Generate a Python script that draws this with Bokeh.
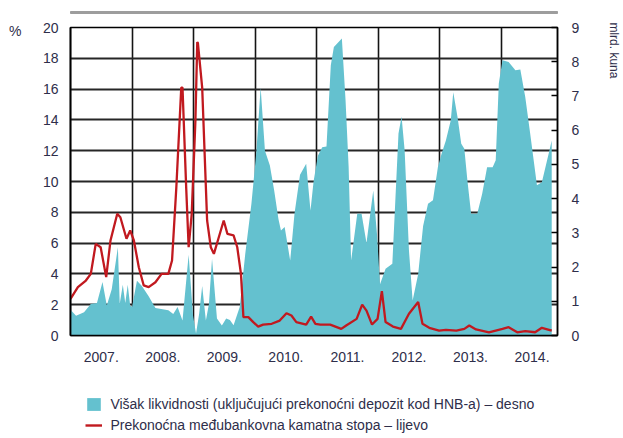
from bokeh.plotting import figure
from bokeh.models import Range1d, LinearAxis, FixedTicker, Legend, LegendItem
from bokeh.layouts import column
from bokeh.embed import file_html
from bokeh.resources import INLINE

# ---- data ----
# Excess liquidity (right axis, bn kuna); x = decimal year
liq_t = [2007.00, 2007.09, 2007.22, 2007.33, 2007.43, 2007.52, 2007.59, 2007.67, 2007.77,
         2007.80, 2007.85, 2007.89, 2007.93, 2007.97, 2008.00, 2008.08, 2008.16, 2008.27,
         2008.38, 2008.59, 2008.67, 2008.74, 2008.82, 2008.92, 2008.99, 2009.04, 2009.09,
         2009.14, 2009.20, 2009.25, 2009.30, 2009.38, 2009.46, 2009.53, 2009.59, 2009.65,
         2009.75, 2009.84, 2009.94, 2010.02, 2010.09, 2010.16, 2010.24, 2010.31, 2010.38,
         2010.42, 2010.48, 2010.57, 2010.64, 2010.73, 2010.83, 2010.90, 2010.95, 2011.02,
         2011.09, 2011.16, 2011.23, 2011.28, 2011.41, 2011.47, 2011.52, 2011.56, 2011.66,
         2011.73, 2011.81, 2011.92, 2011.98, 2012.03, 2012.12, 2012.23, 2012.33, 2012.38,
         2012.43, 2012.50, 2012.56, 2012.65, 2012.73, 2012.81, 2012.89, 2012.97, 2013.03,
         2013.10, 2013.18, 2013.22, 2013.29, 2013.35, 2013.40, 2013.45, 2013.51, 2013.61,
         2013.69, 2013.77, 2013.86, 2013.91, 2013.96, 2014.02, 2014.12, 2014.23, 2014.31,
         2014.39, 2014.47, 2014.58, 2014.66, 2014.77, 2014.82]
liq_v = [0.75, 0.58, 0.68, 0.92, 0.95, 1.56, 0.88, 1.35, 2.58,
         0.93, 1.48, 0.95, 1.48, 0.88, 0.83, 1.60, 1.45, 1.15,
         0.80, 0.74, 0.63, 0.83, 0.44, 2.36, 0.60, 0.06, 0.63,
         1.45, 0.44, 0.93, 2.24, 0.50, 0.29, 0.50, 0.45, 0.30,
         0.83, 2.39, 3.85, 5.36, 7.25, 5.40, 4.97, 4.24, 3.40,
         3.07, 3.17, 2.19, 3.56, 4.70, 5.02, 3.65, 4.50, 5.25,
         5.50, 5.52, 7.90, 8.43, 8.68, 6.87, 4.92, 2.19, 3.56,
         3.56, 2.70, 4.24, 2.97, 1.50, 1.95, 2.10, 5.90, 6.40,
         5.41, 2.49, 1.02, 1.80, 3.20, 3.85, 3.95, 4.92, 5.31,
         5.70, 6.29, 7.11, 6.38, 5.60, 5.46, 4.53, 3.56, 3.56,
         4.14, 4.92, 4.92, 5.12, 7.36, 8.04, 7.99, 7.75, 7.77,
         6.97, 5.90, 4.39, 4.48, 5.31, 5.70]

# Overnight interbank rate (left axis, %)
rate_t = [2007.00, 2007.12, 2007.25, 2007.33, 2007.41, 2007.49, 2007.58, 2007.65, 2007.76,
          2007.81, 2007.91, 2007.97, 2008.03, 2008.11, 2008.19, 2008.27, 2008.38, 2008.48,
          2008.59, 2008.65, 2008.72, 2008.80, 2008.82, 2008.88, 2008.92, 2008.97, 2009.03,
          2009.06, 2009.07, 2009.14, 2009.22, 2009.28, 2009.33, 2009.41, 2009.49, 2009.55,
          2009.65, 2009.71, 2009.77, 2009.81, 2009.89, 2009.97, 2010.05, 2010.13, 2010.27,
          2010.40, 2010.51, 2010.59, 2010.67, 2010.83, 2010.91, 2010.98, 2011.06, 2011.22,
          2011.40, 2011.48, 2011.65, 2011.74, 2011.81, 2011.90, 2011.99, 2012.06, 2012.12,
          2012.24, 2012.37, 2012.50, 2012.65, 2012.72, 2012.83, 2012.99, 2013.10, 2013.27,
          2013.40, 2013.48, 2013.59, 2013.80, 2014.02, 2014.12, 2014.26, 2014.39, 2014.55,
          2014.66, 2014.82]
rate_v = [2.38, 3.14, 3.57, 4.00, 5.95, 5.73, 3.79, 6.17, 7.90,
          7.68, 6.28, 6.82, 6.17, 4.43, 3.25, 3.14, 3.46, 4.00,
          4.00, 4.87, 9.63, 16.10, 16.10, 9.60, 5.73, 7.90, 13.96,
          19.05, 19.00, 16.10, 7.47, 5.73, 5.30, 6.38, 7.47, 6.60,
          6.50, 5.73, 4.00, 1.19, 1.19, 0.87, 0.58, 0.71, 0.76,
          0.97, 1.45, 1.30, 0.87, 0.71, 1.23, 0.76, 0.71, 0.71,
          0.43, 0.65, 1.08, 2.01, 1.62, 0.71, 1.08, 2.88, 0.87,
          0.58, 0.43, 1.41, 2.17, 0.76, 0.50, 0.32, 0.37, 0.32,
          0.43, 0.65, 0.39, 0.21, 0.43, 0.54, 0.21, 0.28, 0.21,
          0.50, 0.32]

year_centers = [2007.5, 2008.5, 2009.5, 2010.5, 2011.5, 2012.5, 2013.5, 2014.5]
year_labels = ["2007.", "2008.", "2009.", "2010.", "2011.", "2012.", "2013.", "2014."]
year_bounds = [2008, 2009, 2010, 2011, 2012, 2013, 2014]
left_ticks = [0, 2, 4, 6, 8, 10, 12, 14, 16, 18, 20]
right_ticks = [0, 1, 2, 3, 4, 5, 6, 7, 8, 9]
left_unit = "%"
right_unit = "mlrd. kuna"

label_area = "Višak likvidnosti (uključujući prekonoćni depozit kod HNB-a) – desno"
label_line = "Prekonoćna međubankovna kamatna stopa – lijevo"

FONT = "Liberation Sans"
TXT = "#2e2e4a"
TEAL = "#64c1cf"
RED = "#c1191f"
RULE = "#9d9d9d"

p = figure(width=623, height=356,
           x_range=Range1d(2007.0, 2014.914), y_range=Range1d(0, 20),
           output_backend="svg", toolbar_location=None,
           min_border_left=70, min_border_right=61, min_border_top=13, min_border_bottom=35,
           background_fill_color="white", border_fill_color="white")
p.extra_y_ranges = {"right": Range1d(0, 9)}

p.outline_line_color = "black"
p.outline_line_width = 1.5

# grids
p.xgrid.ticker = FixedTicker(ticks=year_bounds)
p.xgrid.grid_line_color = "#141414"
p.xgrid.grid_line_width = 1.6
p.ygrid.grid_line_color = "#262626"
p.ygrid.grid_line_width = 2.0


def style_axis(ax, standoff):
    ax.minor_tick_line_color = None
    ax.major_tick_out = 0
    ax.major_label_standoff = standoff
    ax.major_label_text_font = FONT
    ax.major_label_text_font_size = "14px"
    ax.major_label_text_color = TXT


# bottom axis
xa = p.xaxis[0]
xa.ticker = FixedTicker(ticks=year_centers)
xa.major_label_overrides = {c: l for c, l in zip(year_centers, year_labels)}
xa.major_tick_line_color = None
xa.axis_line_color = "black"
xa.axis_line_width = 1.5
style_axis(xa, 16)

# left axis
ya = p.yaxis[0]
ya.ticker = FixedTicker(ticks=left_ticks)
ya.major_tick_line_color = None
ya.axis_line_color = "black"
ya.axis_line_width = 1.8
style_axis(ya, 12)

# "%" unit, as an outer left axis with a single tick near the top
ua = LinearAxis(ticker=FixedTicker(ticks=[19.8]), major_label_overrides={19.8: left_unit})
ua.axis_line_color = None
ua.major_tick_line_color = None
style_axis(ua, 18)
p.add_layout(ua, "left")

# right axis
ra = LinearAxis(y_range_name="right", ticker=FixedTicker(ticks=right_ticks))
ra.major_tick_in = 6
ra.major_tick_line_color = "black"
ra.major_tick_line_width = 1.5
ra.axis_line_color = "black"
ra.axis_line_width = 1.5
style_axis(ra, 14)
p.add_layout(ra, "right")

# unit of the right axis, rotated, outer right axis
ma = LinearAxis(y_range_name="right", ticker=FixedTicker(ticks=[8.33]),
                major_label_overrides={8.33: right_unit})
ma.axis_line_color = None
ma.major_tick_line_color = None
style_axis(ma, 24)
ma.major_label_text_font_size = "12px"
ma.major_label_orientation = "vertical"
p.add_layout(ma, "right")

# data
p.varea(x=liq_t, y1=0, y2=liq_v, y_range_name="right", fill_color=TEAL)
p.line(x=rate_t, y=rate_v, line_color=RED, line_width=2.3)

# ---- legend strip below the chart (its frame is aligned with the chart's) ----
pl = figure(width=623, height=68, x_range=Range1d(0, 1), y_range=Range1d(0, 1),
            output_backend="svg", toolbar_location=None,
            x_axis_type=None, y_axis_type=None,
            min_border_left=0, min_border_right=0, min_border_top=0, min_border_bottom=0,
            background_fill_color="white", border_fill_color="white")
pl.outline_line_color = None
pl.grid.visible = False
# same series, falling outside this strip's ranges: they only supply the legend swatches
la = pl.varea(x=liq_t, y1=0, y2=liq_v, fill_color=TEAL)
ll = pl.line(x=rate_t, y=rate_v, line_color=RED, line_width=2.4)
leg = Legend(items=[LegendItem(label=label_area, renderers=[la]),
                    LegendItem(label=label_line, renderers=[ll])],
             location=(15.4, 5.5), glyph_width=17, glyph_height=16, label_standoff=8,
             padding=0, margin=0, spacing=5, border_line_color=None,
             background_fill_alpha=0, label_text_font=FONT,
             label_text_font_size="14px", label_text_color=TXT, label_height=16)
pl.add_layout(leg)

# thin grey rule at the top of the page: a strip whose 2px-tall frame is filled grey
rule = figure(width=623, height=14, x_range=Range1d(0, 1), y_range=Range1d(0, 1),
              output_backend="svg", toolbar_location=None,
              x_axis_type=None, y_axis_type=None,
              min_border_left=9, min_border_right=0, min_border_top=11, min_border_bottom=1,
              background_fill_color=RULE, border_fill_color="white")
rule.outline_line_color = RULE
rule.outline_line_width = 1
rule.grid.visible = False

layout = column(rule, p, pl, spacing=0)
open("out.html", "w").write(file_html(layout, INLINE))
